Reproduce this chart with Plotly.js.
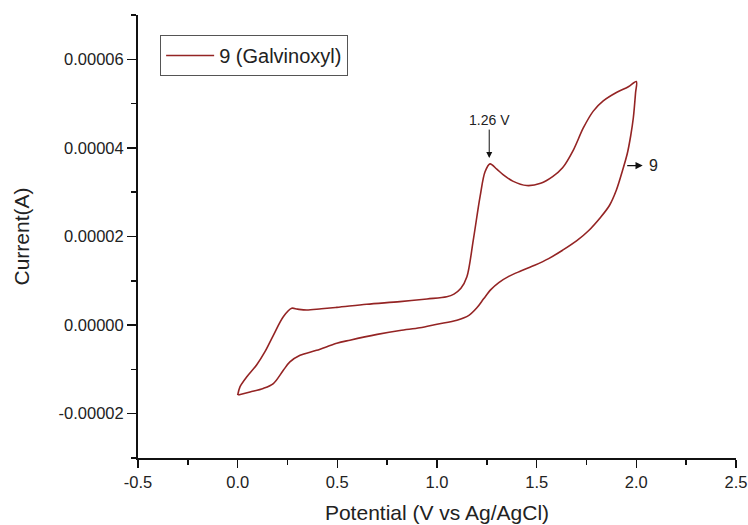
<!DOCTYPE html>
<html>
<head>
<meta charset="utf-8">
<script src="https://cdn.plot.ly/plotly-3.0.1.min.js"></script>
<style>html,body{margin:0;padding:0;background:#fff;}#chart{width:748px;height:525px;}</style>
</head>
<body>
<div id="chart"></div>
<script>
// Forward (anodic) scan, 0 V -> 2.0 V
const forwardPotential = [0.0, 0.012, 0.045, 0.095, 0.137, 0.179, 0.229, 0.271, 0.30, 0.346, 0.42, 0.497, 0.647, 0.814, 0.95, 1.049, 1.085, 1.12, 1.15, 1.182, 1.216, 1.241, 1.266, 1.30, 1.333, 1.38, 1.45, 1.52, 1.58, 1.63, 1.684, 1.734, 1.784, 1.834, 1.90, 1.96, 2.0];
const forwardCurrent = [-15.8e-6, -13.9e-6, -11.7e-6, -9.0e-6, -6.0e-6, -2.3e-6, 1.9e-6, 3.8e-6, 3.6e-6, 3.4e-6, 3.7e-6, 4.0e-6, 4.7e-6, 5.3e-6, 5.9e-6, 6.4e-6, 7.0e-6, 8.3e-6, 10.9e-6, 19.2e-6, 29.0e-6, 34.6e-6, 36.4e-6, 35.2e-6, 33.9e-6, 32.5e-6, 31.5e-6, 32.0e-6, 33.5e-6, 35.5e-6, 39.5e-6, 44.5e-6, 48.3e-6, 50.6e-6, 52.5e-6, 53.8e-6, 55.0e-6];
// Reverse (cathodic) scan, 2.0 V -> 0 V
const reversePotential = [1.996, 1.985, 1.972, 1.955, 1.93, 1.90, 1.865, 1.82, 1.76, 1.70, 1.63, 1.56, 1.49, 1.42, 1.36, 1.31, 1.27, 1.235, 1.20, 1.16, 1.10, 1.00, 0.914, 0.814, 0.70, 0.563, 0.497, 0.396, 0.313, 0.262, 0.229, 0.179, 0.128, 0.062, 0.003];
const reverseCurrent = [52.4e-6, 46.8e-6, 42.8e-6, 38.8e-6, 34.8e-6, 30.5e-6, 27.0e-6, 24.3e-6, 21.3e-6, 19.0e-6, 16.9e-6, 15.0e-6, 13.5e-6, 12.2e-6, 11.0e-6, 9.6e-6, 8.0e-6, 6.0e-6, 3.9e-6, 2.2e-6, 1.1e-6, 0.2e-6, -0.6e-6, -1.2e-6, -2.1e-6, -3.4e-6, -4.1e-6, -5.7e-6, -6.8e-6, -8.3e-6, -10.2e-6, -13.2e-6, -14.3e-6, -15.1e-6, -15.8e-6];

const xTickVals = [-0.5, 0.0, 0.5, 1.0, 1.5, 2.0, 2.5];
const xTickText = ["-0.5", "0.0", "0.5", "1.0", "1.5", "2.0", "2.5"];
const yTickVals = [-2e-5, 0, 2e-5, 4e-5, 6e-5];
const yTickText = ["-0.00002", "0.00000", "0.00002", "0.00004", "0.00006"];

const seriesName = "9 (Galvinoxyl)";
const xTitle = "Potential (V vs Ag/AgCl)";
const yTitle = "Current(A)";
const peakLabel = "1.26 V";
const peakPotential = 1.262;
const peakCurrent = 3.77e-5;
const curveLabel = "9";
const curveArrowPotential = 2.032;
const curveArrowCurrent = 3.6e-5;
const curveLabelPotential = 2.085;

const xs = forwardPotential.concat(reversePotential);
const ys = forwardCurrent.concat(reverseCurrent);

const font = "'Liberation Sans', Arial, sans-serif";
const trace = {
  x: xs, y: ys, type: 'scatter', mode: 'lines', name: seriesName,
  line: {color: '#942424', width: 1.6, shape: 'spline', smoothing: 0.9},
  showlegend: true
};

const layout = {
  width: 748, height: 525,
  margin: {l: 138, r: 12, t: 15, b: 67},
  paper_bgcolor: '#fff', plot_bgcolor: '#fff',
  font: {family: font, color: '#222'},
  showlegend: true,
  legend: {x: 0.037, y: 0.955, xanchor: 'left', yanchor: 'top',
    bordercolor: '#555', borderwidth: 1, bgcolor: '#fff',
    font: {size: 20, family: font, color: '#222'}, itemwidth: 48},
  xaxis: {
    range: [-0.5, 2.5], tickmode: 'array', tickvals: xTickVals, ticktext: xTickText,
    showline: true, linecolor: '#111', linewidth: 2, mirror: false,
    ticks: 'outside', ticklen: 8, tickwidth: 1.5, tickcolor: '#111',
    minor: {dtick: 0.25, tick0: 0, ticks: 'outside', ticklen: 5, tickwidth: 1.5, tickcolor: '#111'},
    showgrid: false, zeroline: false,
    tickfont: {size: 16.5, family: font, color: '#222'},
    title: {text: xTitle, font: {size: 21, family: font, color: '#222'}, standoff: 16}
  },
  yaxis: {
    range: [-3e-5, 7e-5], tickmode: 'array', tickvals: yTickVals, ticktext: yTickText,
    showline: true, linecolor: '#111', linewidth: 2, mirror: false,
    ticks: 'outside', ticklen: 9, tickwidth: 1.5, tickcolor: '#111',
    minor: {dtick: 1e-5, tick0: 0, ticks: 'outside', ticklen: 5, tickwidth: 1.5, tickcolor: '#111'},
    showgrid: false, zeroline: false,
    tickfont: {size: 16.5, family: font, color: '#222'},
    title: {text: yTitle, font: {size: 21, family: font, color: '#222'}, standoff: 23}
  },
  annotations: [
    {x: peakPotential, y: peakCurrent, xref: 'x', yref: 'y', text: peakLabel,
     showarrow: true, ax: 0, ay: -38, arrowhead: 2, arrowsize: 1.2, arrowwidth: 1, arrowcolor: '#111',
     font: {size: 14, family: font, color: '#222'}},
    {x: curveArrowPotential, y: curveArrowCurrent, xref: 'x', yref: 'y', text: '',
     showarrow: true, ax: -17, ay: 0, arrowhead: 2, arrowsize: 1.2, arrowwidth: 1.2, arrowcolor: '#111'},
    {x: curveLabelPotential, y: curveArrowCurrent, xref: 'x', yref: 'y', text: curveLabel,
     showarrow: false, font: {size: 16, family: font, color: '#222'}}
  ]
};

Plotly.newPlot('chart', [trace], layout, {displayModeBar: false, staticPlot: true});
</script>
</body>
</html>
